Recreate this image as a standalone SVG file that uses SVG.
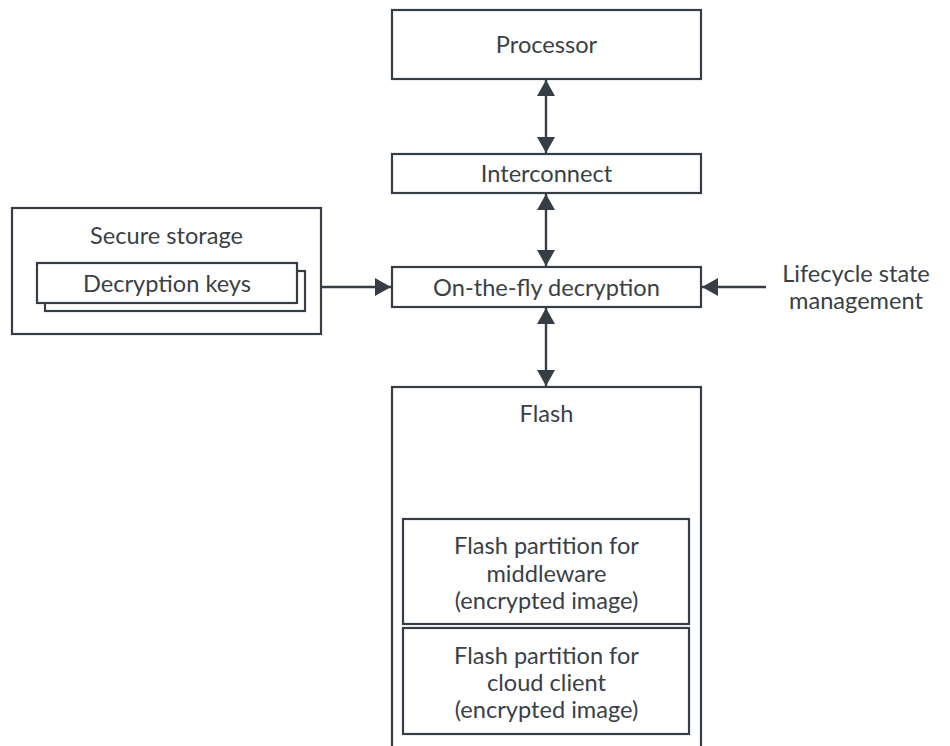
<svg xmlns="http://www.w3.org/2000/svg" width="950" height="746" viewBox="0 0 950 746">
  <style>
    .box { fill: #ffffff; stroke: #383d45; stroke-width: 2.2; }
    .lbl { font-family: Lato, "Liberation Sans", sans-serif; font-size: 23.6px; fill: #3a3f48; text-anchor: middle; }
    .wire { stroke: #383d45; stroke-width: 2.4; fill: none; }
  </style>
  <defs>
    <marker id="head" markerUnits="userSpaceOnUse" markerWidth="18" markerHeight="18" viewBox="0 0 16 18" refX="16" refY="9" orient="auto-start-reverse">
      <path d="M0,0 L16,9 L0,18 z" fill="#383d45"/>
    </marker>
  </defs>
  <rect width="950" height="746" fill="#ffffff"/>

  <g id="processor">
    <rect class="box" x="392" y="10" width="309" height="69"/>
    <text class="lbl" x="546.5" y="53">Processor</text>
  </g>

  <g id="interconnect">
    <rect class="box" x="392" y="154" width="309" height="39"/>
    <text class="lbl" x="546.5" y="182">Interconnect</text>
  </g>

  <g id="decryption">
    <rect class="box" x="392" y="267" width="309" height="40"/>
    <text class="lbl" x="546.5" y="296">On-the-fly decryption</text>
  </g>

  <g id="secure-storage">
    <rect class="box" x="12" y="208" width="309" height="126"/>
    <text class="lbl" x="166.5" y="244">Secure storage</text>
    <g id="keys">
      <rect class="box" x="45" y="271" width="260" height="40"/>
      <rect class="box" x="37" y="263" width="260" height="40"/>
      <text class="lbl" x="167" y="292">Decryption keys</text>
    </g>
  </g>

  <g id="lifecycle">
    <text class="lbl" x="856" y="282">Lifecycle state</text>
    <text class="lbl" x="856" y="309">management</text>
  </g>

  <g id="flash">
    <rect class="box" x="392" y="387" width="309" height="364"/>
    <text class="lbl" x="546.5" y="422">Flash</text>
    <g id="partition-middleware">
      <rect class="box" x="403" y="519" width="286" height="105"/>
      <text class="lbl" x="546.5" y="554">Flash partition for</text>
      <text class="lbl" x="546.5" y="582">middleware</text>
      <text class="lbl" x="546.5" y="609">(encrypted image)</text>
    </g>
    <g id="partition-cloud">
      <rect class="box" x="403" y="628" width="286" height="106"/>
      <text class="lbl" x="546.5" y="664">Flash partition for</text>
      <text class="lbl" x="546.5" y="691">cloud client</text>
      <text class="lbl" x="546.5" y="718">(encrypted image)</text>
    </g>
  </g>

  <g id="connectors">
    <line class="wire" x1="546" y1="80" x2="546" y2="153" marker-start="url(#head)" marker-end="url(#head)"/>
    <line class="wire" x1="546" y1="194" x2="546" y2="266" marker-start="url(#head)" marker-end="url(#head)"/>
    <line class="wire" x1="546" y1="308" x2="546" y2="386" marker-start="url(#head)" marker-end="url(#head)"/>
    <line class="wire" x1="322" y1="287" x2="391" y2="287" marker-end="url(#head)"/>
    <line class="wire" x1="766" y1="287" x2="702" y2="287" marker-end="url(#head)"/>
  </g>
</svg>
